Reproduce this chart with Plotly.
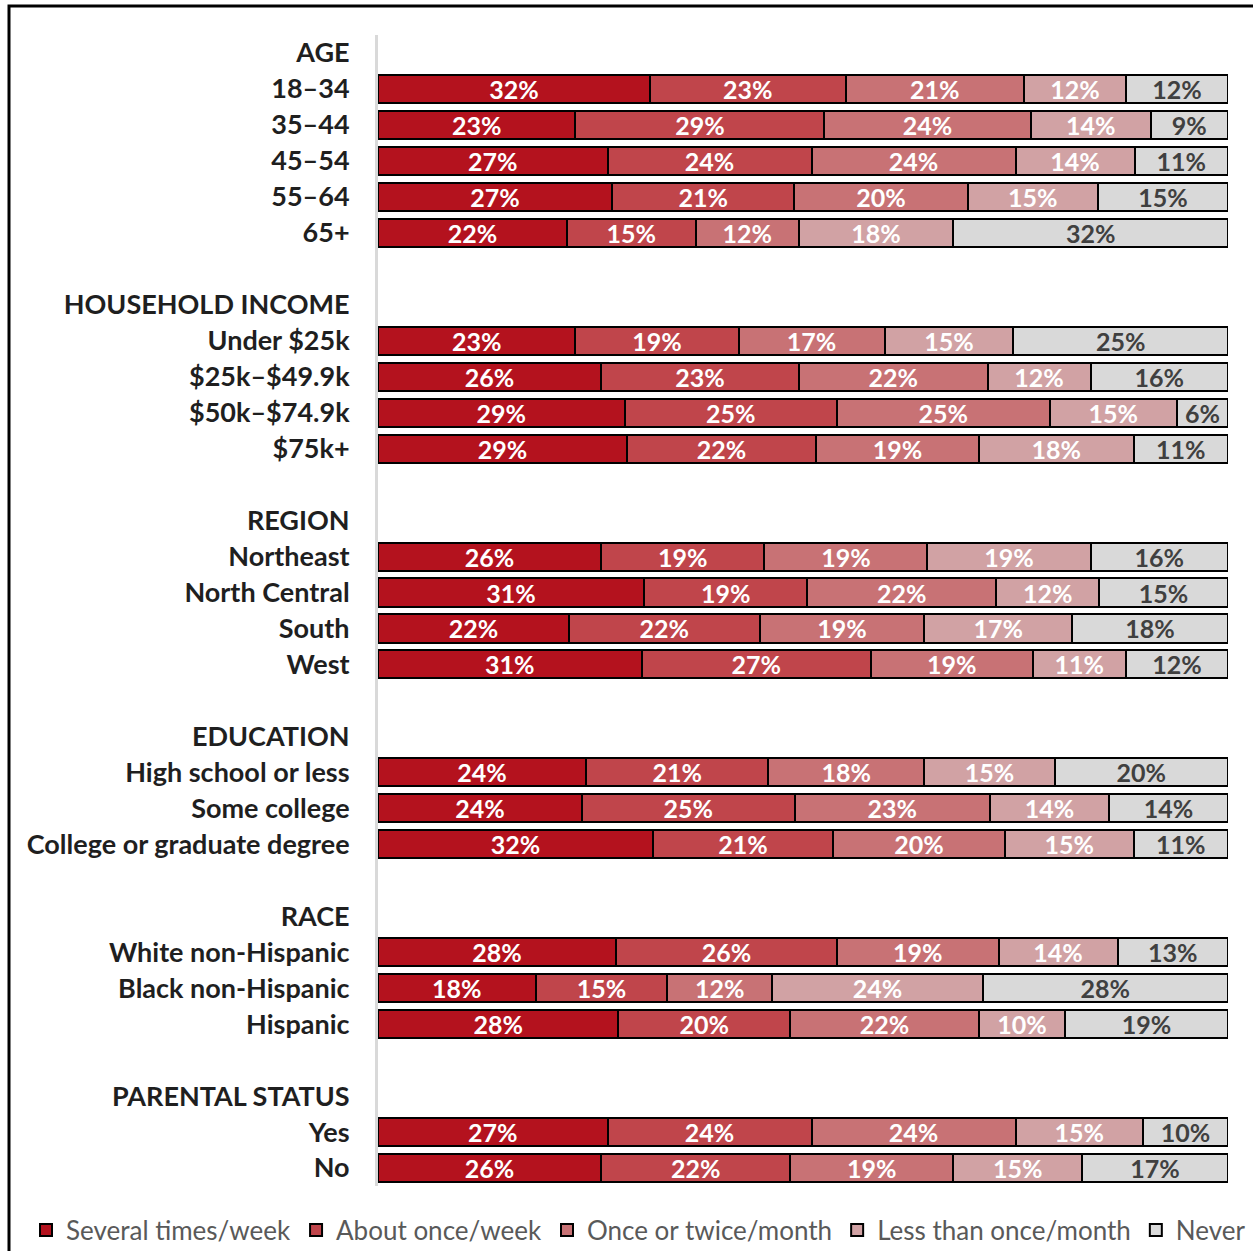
import plotly.graph_objects as go

# Response categories (stack order, left to right)
series_names = [
    "Several times/week",
    "About once/week",
    "Once or twice/month",
    "Less than once/month",
    "Never",
]
series_colors = ["#B4121E", "#C0454B", "#C87275", "#D1A2A4", "#D9D9D9"]
label_colors = ["#FFFFFF", "#FFFFFF", "#FFFFFF", "#FFFFFF", "#404040"]

# Group headers and their subgroups
groups = ["AGE", "HOUSEHOLD INCOME", "REGION", "EDUCATION", "RACE", "PARENTAL STATUS"]
subgroups = [
    ["18–34", "35–44", "45–54", "55–64", "65+"],
    ["Under $25k", "$25k–$49.9k", "$50k–$74.9k", "$75k+"],
    ["Northeast", "North Central", "South", "West"],
    ["High school or less", "Some college", "College or graduate degree"],
    ["White non-Hispanic", "Black non-Hispanic", "Hispanic"],
    ["Yes", "No"],
]

# Percent of respondents in each response category, per subgroup
several_times_week = [32, 23, 27, 27, 22, 23, 26, 29, 29, 26, 31, 22, 31, 24, 24, 32, 28, 18, 28, 27, 26]
about_once_week = [23, 29, 24, 21, 15, 19, 23, 25, 22, 19, 19, 22, 27, 21, 25, 21, 26, 15, 20, 24, 22]
once_twice_month = [21, 24, 24, 20, 12, 17, 22, 25, 19, 19, 22, 19, 19, 18, 23, 20, 19, 12, 22, 24, 19]
less_than_month = [12, 14, 14, 15, 18, 15, 12, 15, 18, 19, 12, 17, 11, 15, 14, 15, 14, 24, 10, 15, 15]
never = [12, 9, 11, 15, 32, 25, 16, 6, 11, 16, 15, 18, 12, 20, 14, 11, 13, 28, 19, 10, 17]

series_values = [several_times_week, about_once_week, once_twice_month, less_than_month, never]

# Row order on the axis: a spacer row before each header except the first
row_order = []
for i, (g, subs) in enumerate(zip(groups, subgroups)):
    if i > 0:
        row_order.append(" " * i)
    row_order.append(g)
    row_order.extend(subs)

categories = [s for subs in subgroups for s in subs]

FONT = "Lato"

fig = go.Figure()
for name, vals, color, tcolor in zip(series_names, series_values, series_colors, label_colors):
    fig.add_trace(
        go.Bar(
            name=name,
            y=categories,
            x=vals,
            orientation="h",
            marker=dict(color=color, line=dict(color="#000000", width=2)),
            text=[f"{v}%" for v in vals],
            textposition="inside",
            insidetextanchor="middle",
            textangle=0,
            constraintext="none",
            textfont=dict(family=FONT, size=25, color=tcolor, weight="bold"),
            hoverinfo="skip",
        )
    )

# Pixel geometry of the plotting area, used for the frame outline and legend
L, R, T, B = 378, 25, 35, 65
W, H = 1253, 1251
pw, ph = W - L - R, H - T - B

def px_to_paper_x(px):
    return (px - L) / pw

def px_to_paper_y(py):
    return (H - B - py) / ph

fig.update_layout(
    width=W,
    height=H,
    margin=dict(l=L, r=R, t=T, b=B, autoexpand=False),
    paper_bgcolor="white",
    plot_bgcolor="white",
    barmode="stack",
    barnorm="percent",
    bargap=0.22,
    font=dict(family=FONT),
    xaxis=dict(
        range=[0, 100],
        visible=False,
        fixedrange=True,
    ),
    yaxis=dict(
        type="category",
        categoryorder="array",
        categoryarray=row_order,
        range=[len(row_order) - 0.5, -0.5],
        showline=True,
        linecolor="#D9D9D9",
        linewidth=3,
        ticks="",
        ticklabelstandoff=20,
        tickfont=dict(family=FONT, size=27, color="#1F1F1F", weight="bold"),
        showgrid=False,
        fixedrange=True,
    ),
    legend=dict(
        orientation="h",
        x=px_to_paper_x(26),
        xanchor="left",
        y=px_to_paper_y(1230),
        yanchor="middle",
        font=dict(family=FONT, size=26, color="#595959"),
        traceorder="normal",
        itemclick=False,
        bgcolor="rgba(0,0,0,0)",
    ),
    showlegend=True,
    shapes=[
        dict(
            type="rect",
            xref="paper",
            yref="paper",
            x0=px_to_paper_x(9),
            x1=px_to_paper_x(1270),
            y0=px_to_paper_y(1270),
            y1=px_to_paper_y(6),
            line=dict(color="#000000", width=3),
            fillcolor="rgba(0,0,0,0)",
            layer="above",
        )
    ],
)

fig.write_html("out.html")
